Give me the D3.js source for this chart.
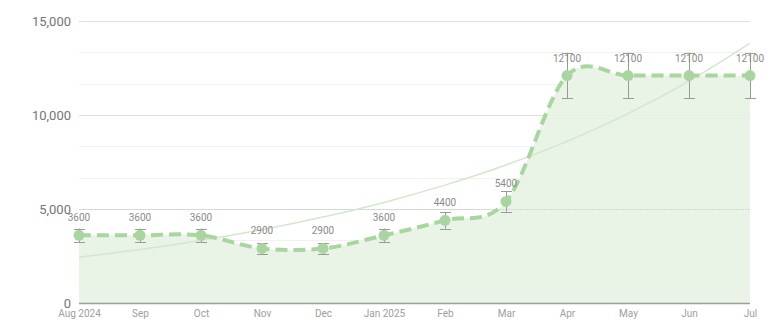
<!DOCTYPE html>
<html>
<head>
<meta charset="utf-8">
<script src="https://cdn.jsdelivr.net/npm/d3@7"></script>
<style>
  body { margin: 0; background: #fff; font-family: Roboto, Arial, sans-serif; }
  svg { display: block; }
</style>
</head>
<body>
<div id="chart"></div>
<script>
const months = ["Aug 2024", "Sep", "Oct", "Nov", "Dec", "Jan 2025", "Feb", "Mar", "Apr", "May", "Jun", "Jul"];
const values = [3600, 3600, 3600, 2900, 2900, 3600, 4400, 5400, 12100, 12100, 12100, 12100];
const errLow = [3240, 3240, 3240, 2610, 2610, 3240, 3960, 4860, 10890, 10890, 10890, 10890];
const errHigh = [3960, 3960, 3960, 3190, 3190, 3960, 4840, 5940, 13310, 13310, 13310, 13310];
// trendline
const trend = [2430, 2850, 3330, 3900, 4570, 5350, 6270, 7340, 8600, 10070, 11800, 13820];
const yTicks = [0, 5000, 10000, 15000];

const width = 775, height = 323;
const margin = { top: 21, right: 25, bottom: 20, left: 79 };
const lineColor = "#a9d5a0";

const svg = d3.select("#chart").append("svg")
    .attr("width", width)
    .attr("height", height);

const x = d3.scalePoint()
    .domain(months)
    .range([margin.left, width - margin.right]);

const y = d3.scaleLinear()
    .domain([0, 15000])
    .range([height - margin.bottom, margin.top]);

// minor gridlines
svg.append("g")
    .selectAll("line")
    .data(d3.range(0, 15001, 5000 / 3).filter(v => Math.round(v) % 5000 != 0))
    .enter().append("line")
        .attr("x1", margin.left)
        .attr("x2", width - margin.right)
        .attr("y1", d => Math.round(y(d)) + 0.5)
        .attr("y2", d => Math.round(y(d)) + 0.5)
        .attr("stroke", "#f1f1f1");

// major gridlines
svg.append("g")
    .selectAll("line")
    .data(yTicks.slice(1))
    .enter().append("line")
        .attr("x1", margin.left)
        .attr("x2", width - margin.right)
        .attr("y1", d => Math.round(y(d)) + 0.5)
        .attr("y2", d => Math.round(y(d)) + 0.5)
        .attr("stroke", "#dedede");

// y labels
let yAxis = d3.axisLeft(y)
    .tickValues(yTicks)
    .tickSize(0)
    .tickPadding(8)
    .tickFormat(d3.format(","));
svg.append("g")
    .attr("transform", `translate(${ margin.left }, 0)`)
    .call(yAxis)
    .call(g => g.select(".domain").remove())
    .call(g => g.selectAll("text")
        .attr("fill", "#757575")
        .style("font-size", "13px")
        .style("font-family", "Roboto, Arial, sans-serif"));

const data = months.map((m, i) => ({ month: m, value: values[i], lo: errLow[i], hi: errHigh[i], trend: trend[i] }));

// area
let area = d3.area()
    .x(d => x(d.month))
    .y0(y(0))
    .y1(d => y(d.value))
    .curve(d3.curveCardinal.tension(0));
svg.append("path")
    .datum(data)
    .attr("d", area)
    .attr("fill", "#e7f2e3")
    .attr("opacity", 0.9);

// redraw the 5000 gridline faintly through the area
svg.append("line")
    .attr("x1", margin.left)
    .attr("x2", width - margin.right)
    .attr("y1", Math.round(y(5000)) + 0.5)
    .attr("y2", Math.round(y(5000)) + 0.5)
    .attr("stroke", "#cfd9cc")
    .attr("stroke-dasharray", "2,1");

// trendline
let trendLine = d3.line()
    .x(d => x(d.month))
    .y(d => y(d.trend))
    .curve(d3.curveMonotoneX);
svg.append("path")
    .datum(data)
    .attr("d", trendLine)
    .attr("fill", "none")
    .attr("stroke", "#d3e7cc")
    .attr("stroke-width", 1.5);

// baseline
svg.append("line")
    .attr("x1", margin.left)
    .attr("x2", width - margin.right)
    .attr("y1", y(0) + 0.5)
    .attr("y2", y(0) + 0.5)
    .attr("stroke", "#9e9e9e")
    .attr("stroke-width", 1.5);

// x labels
let xAxis = d3.axisBottom(x).tickSize(0).tickPadding(7);
svg.append("g")
    .attr("transform", `translate(0, ${ y(0) })`)
    .call(xAxis)
    .call(g => g.select(".domain").remove())
    .call(g => g.selectAll("text")
        .attr("fill", "#9e9e9e")
        .style("font-size", "10px")
        .style("font-family", "Roboto, Arial, sans-serif"));

// main line
let line = d3.line()
    .x(d => x(d.month))
    .y(d => y(d.value))
    .curve(d3.curveCardinal.tension(0));
svg.append("path")
    .datum(data)
    .attr("d", line)
    .attr("fill", "none")
    .attr("stroke", lineColor)
    .attr("stroke-width", 4)
    .attr("stroke-dasharray", "12,6");

// error bars
let errG = svg.append("g").attr("stroke", "#9a9a9a").attr("stroke-width", 1);
errG.selectAll(".err")
    .data(data)
    .enter().append("line")
        .attr("x1", d => x(d.month) + 0.5)
        .attr("x2", d => x(d.month) + 0.5)
        .attr("y1", d => y(d.lo))
        .attr("y2", d => y(d.hi));
errG.selectAll(".cap-hi")
    .data(data)
    .enter().append("line")
        .attr("x1", d => x(d.month) - 5)
        .attr("x2", d => x(d.month) + 6)
        .attr("y1", d => Math.round(y(d.hi)) + 0.5)
        .attr("y2", d => Math.round(y(d.hi)) + 0.5);
errG.selectAll(".cap-lo")
    .data(data)
    .enter().append("line")
        .attr("x1", d => x(d.month) - 5)
        .attr("x2", d => x(d.month) + 6)
        .attr("y1", d => Math.round(y(d.lo)) + 0.5)
        .attr("y2", d => Math.round(y(d.lo)) + 0.5);

// points
svg.append("g")
    .selectAll("circle")
    .data(data)
    .enter().append("circle")
        .attr("cx", d => x(d.month))
        .attr("cy", d => y(d.value))
        .attr("r", 5.5)
        .attr("fill", lineColor);

// value labels
svg.append("g")
    .selectAll("text")
    .data(data)
    .enter().append("text")
        .attr("x", d => x(d.month))
        .attr("y", d => y(d.value) - 14)
        .attr("text-anchor", "middle")
        .attr("fill", "#8a8a8a")
        .style("font-size", "10px")
        .style("font-family", "Roboto, Arial, sans-serif")
        .text(d => d.value);
</script>
</body>
</html>
